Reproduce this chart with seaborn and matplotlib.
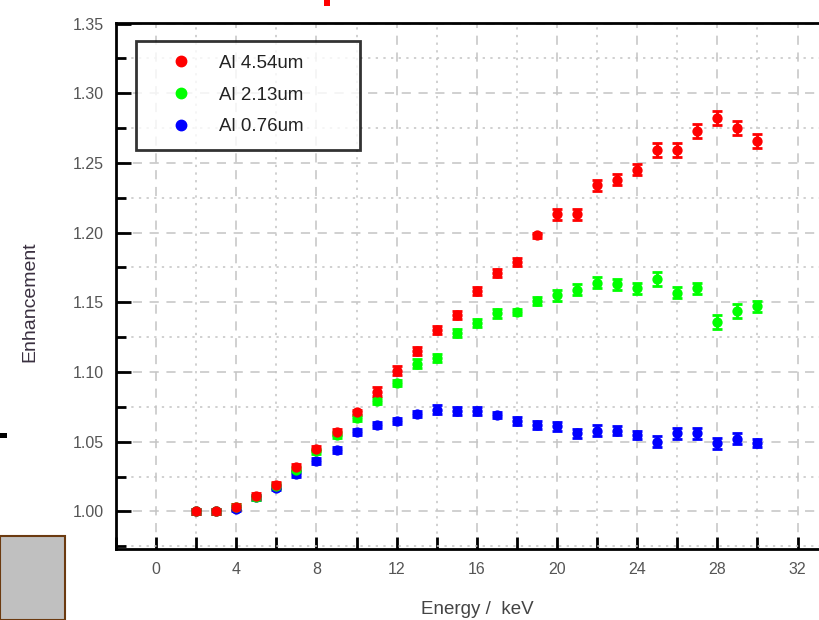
import seaborn as sns
import matplotlib.pyplot as plt
import matplotlib.patches as mpatches
from matplotlib.ticker import MultipleLocator
import pandas as pd

""" Enhancement vs energy for three Al thicknesses. """
energy = list(range(2, 31))

red_y = [1.000, 1.000, 1.003, 1.011, 1.019, 1.032, 1.045, 1.057, 1.071, 1.086,
         1.101, 1.115, 1.130, 1.141, 1.158, 1.171, 1.179, 1.198, 1.213, 1.213,
         1.234, 1.238, 1.245, 1.259, 1.259, 1.273, 1.282, 1.275, 1.266]
red_err = [0.002, 0.002, 0.002, 0.002, 0.002, 0.002, 0.002, 0.002, 0.002, 0.003,
           0.003, 0.003, 0.003, 0.003, 0.003, 0.003, 0.003, 0.002, 0.004, 0.004,
           0.004, 0.004, 0.004, 0.005, 0.005, 0.005, 0.005, 0.005, 0.005]

green_y = [1.000, 1.000, 1.003, 1.010, 1.018, 1.030, 1.043, 1.055, 1.067, 1.079,
           1.092, 1.106, 1.110, 1.128, 1.135, 1.142, 1.143, 1.151, 1.155, 1.159,
           1.164, 1.163, 1.160, 1.167, 1.157, 1.160, 1.136, 1.144, 1.147]
green_err = [0.002, 0.002, 0.002, 0.002, 0.002, 0.002, 0.002, 0.002, 0.002, 0.002,
             0.002, 0.003, 0.003, 0.003, 0.003, 0.003, 0.002, 0.003, 0.004, 0.004,
             0.004, 0.004, 0.004, 0.005, 0.004, 0.004, 0.005, 0.005, 0.004]

blue_y = [1.000, 1.000, 1.002, 1.010, 1.017, 1.027, 1.036, 1.044, 1.057, 1.062,
          1.065, 1.070, 1.073, 1.072, 1.072, 1.069, 1.065, 1.062, 1.061, 1.056,
          1.058, 1.058, 1.055, 1.050, 1.056, 1.056, 1.049, 1.052, 1.049]
blue_err = [0.002, 0.002, 0.002, 0.002, 0.002, 0.002, 0.002, 0.002, 0.002, 0.002,
            0.002, 0.002, 0.003, 0.003, 0.003, 0.002, 0.003, 0.003, 0.003, 0.003,
            0.004, 0.003, 0.003, 0.004, 0.004, 0.004, 0.004, 0.004, 0.003]

labels = ['Al 4.54um', 'Al 2.13um', 'Al 0.76um']
colors = ['#ff0000', '#00ff00', '#0000ff']

frames = []
for lab, ys, es in [(labels[0], red_y, red_err), (labels[1], green_y, green_err),
                    (labels[2], blue_y, blue_err)]:
    frames.append(pd.DataFrame({'energy': energy, 'enh': ys, 'err': es, 'sample': lab}))
df = pd.concat(frames, ignore_index=True)

sns.set_theme(style='white')
plt.rcParams['font.family'] = ['Liberation Sans', 'DejaVu Sans']

fig = plt.figure(figsize=(8.2, 6.2), dpi=100)
ax = fig.add_axes([0.1415, 0.1145, 0.88, 0.848])

# blue first, red on top
for lab, col in zip(labels[::-1], colors[::-1]):
    d = df[df['sample'] == lab]
    ax.errorbar(d['energy'], d['enh'], yerr=d['err'], fmt='none', ecolor=col,
                elinewidth=2, capsize=3.5, capthick=2, zorder=3)
    sns.scatterplot(data=d, x='energy', y='enh', color=col, s=55, linewidth=0,
                    ax=ax, zorder=4, legend=False)

ax.set_xlim(-2, 34)
ax.set_ylim(0.973, 1.3502)
ax.xaxis.set_major_locator(MultipleLocator(4))
ax.xaxis.set_minor_locator(MultipleLocator(2))
ax.yaxis.set_major_locator(MultipleLocator(0.05))
ax.yaxis.set_minor_locator(MultipleLocator(0.025))
ax.yaxis.set_major_formatter(plt.FuncFormatter(lambda v, p: f'{v:.2f}'))

ax.grid(which='major', color='#c4c4c4', linestyle=(0, (6, 5)), linewidth=1.1)
ax.grid(which='minor', color='#c4c4c4', linestyle=(0, (1.5, 3.5)), linewidth=1.1)
ax.set_axisbelow(True)

for s in ax.spines.values():
    s.set_linewidth(2)
    s.set_color('black')
ax.tick_params(which='both', direction='in', colors='black', width=2,
               labelcolor='#555555', labelsize=11.5, bottom=True, left=True)
ax.tick_params(axis='x', which='both', length=9, pad=9)
ax.tick_params(axis='y', which='major', length=11, pad=9)
ax.tick_params(axis='y', which='minor', length=7)

ax.set_xlabel('Energy /  keV', fontsize=13.5, color='#444444')
ax.set_ylabel('Enhancement', fontsize=14, color='#3a3040')
ax.xaxis.set_label_coords(0.5, -0.098)
ax.yaxis.set_label_coords(-0.108, 0.47)

handles = [plt.Line2D([], [], marker='o', linestyle='none', color=c, markersize=7.5)
           for c in colors]
leg = ax.legend(handles, labels, loc='upper left',
                bbox_to_anchor=(0.0277, 0.7667, 0.3104, 0.2), mode='expand',
                borderaxespad=0, fontsize=13.5, frameon=True, fancybox=False,
                handlelength=3.3, handletextpad=0.35, borderpad=0.75,
                labelspacing=0.78)
leg.get_frame().set_edgecolor('black')
leg.get_frame().set_linewidth(2)
for t in leg.get_texts():
    t.set_color('#222222')

# screenshot leftovers around the chart
fig.patches.append(mpatches.Rectangle((0, 0), 65 / 820, 84 / 620, transform=fig.transFigure,
                                      facecolor='#c0c0c0', edgecolor='#6b3a10', linewidth=1.5))
fig.patches.append(mpatches.Rectangle((324 / 820, 614 / 620), 6 / 820, 6 / 620,
                                      transform=fig.transFigure, facecolor='red', edgecolor='none'))
fig.patches.append(mpatches.Rectangle((0, 182 / 620), 7 / 820, 5 / 620,
                                      transform=fig.transFigure, facecolor='black', edgecolor='none'))

fig.savefig('out.png', dpi=100)
